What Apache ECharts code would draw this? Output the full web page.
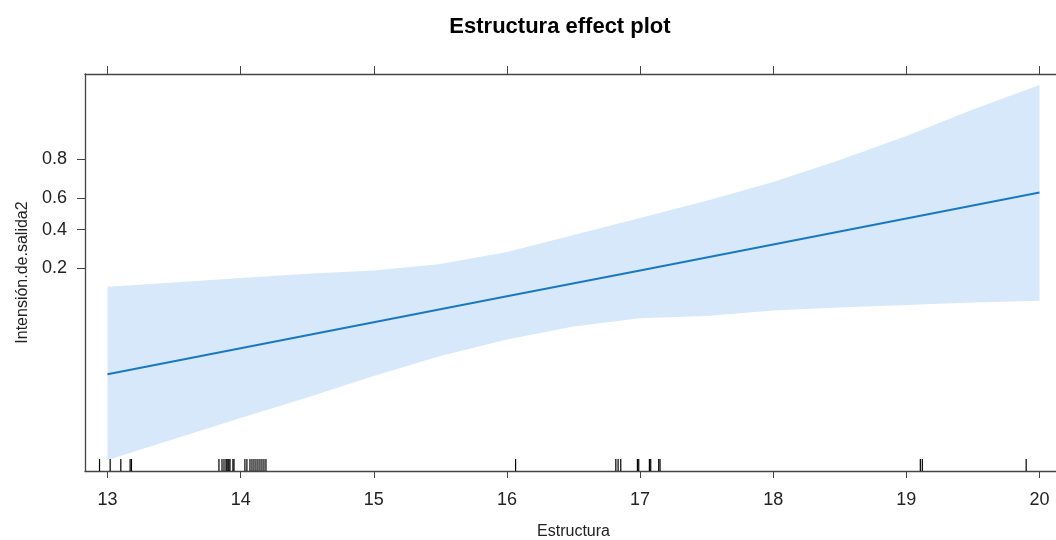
<!DOCTYPE html>
<html>
<head>
<meta charset="utf-8">
<script src="https://cdn.jsdelivr.net/npm/echarts@6/dist/echarts.min.js"></script>
<style>
  html, body { margin: 0; padding: 0; background: #fff; }
  #chart { width: 1056px; height: 540px; }
</style>
</head>
<body>
<div id="chart"></div>
<script>
// effect plot: y is on the logit scale, values below are linear predictor (logit)
var fitX = [13, 14, 15, 16, 17, 18, 19, 20];
var fitLogit = [-4.08, -3.42, -2.76, -2.10, -1.44, -0.78, -0.12, 0.54];

// confidence band, read at half steps
var bandX = [13, 13.5, 14, 14.5, 15, 15.5, 16, 16.5, 17, 17.5, 18, 18.5, 19, 19.5, 20];
var bandUpper = [-1.855, -1.746, -1.636, -1.527, -1.443, -1.277, -0.972, -0.540, -0.107, 0.333, 0.809, 1.368, 1.979, 2.653, 3.276];
var bandLower = [-6.263, -5.729, -5.195, -4.674, -4.127, -3.618, -3.198, -2.867, -2.659, -2.600, -2.460, -2.387, -2.320, -2.257, -2.211];

// rug (observed Estructura values, jittered)
var rugX = [12.94, 13.02, 13.10, 13.17, 13.18,
    13.837, 13.86, 13.875, 13.89, 13.897, 13.905, 13.912, 13.92, 13.942, 13.95,
    14.032, 14.047, 14.07, 14.085, 14.10, 14.115, 14.13, 14.145, 14.16, 14.175, 14.19,
    16.065, 16.818, 16.835, 16.855, 16.98, 16.99, 17.07, 17.08, 17.14, 17.15,
    19.105, 19.12, 19.90];

var xTicks = [13, 14, 15, 16, 17, 18, 19, 20];
var yTickProbs = [0.2, 0.4, 0.6, 0.8];

var X_MIN = 12.831, X_MAX = 20.169;
var Y_MIN = -6.543, Y_MAX = 3.556;

function logit(p) { return Math.log(p / (1 - p)); }
function invLogit(v) { return 1 / (1 + Math.exp(-v)); }

var yTickVals = yTickProbs.map(logit);
var axisColor = '#444';
var font = 'Liberation Sans, Arial, sans-serif';

var chart = echarts.init(document.getElementById('chart'));
chart.setOption({
    animation: false,
    backgroundColor: '#fff',
    title: {
        text: 'Estructura effect plot',
        left: 555,
        textAlign: 'center',
        top: 11,
        textStyle: { fontFamily: font, fontSize: 22, fontWeight: 'bold', color: '#000' }
    },
    grid: { left: 85, top: 74, width: 977, height: 397, outerBoundsMode: 'none', containLabel: false },
    xAxis: [{
        type: 'value',
        position: 'bottom',
        min: X_MIN,
        max: X_MAX,
        name: 'Estructura',
        nameLocation: 'middle',
        nameGap: 53,
        nameTextStyle: { fontFamily: font, fontSize: 16, color: '#222' },
        axisLine: { show: true, onZero: false, lineStyle: { color: axisColor, width: 1.3 } },
        axisTick: { show: true, length: 7, customValues: xTicks, lineStyle: { color: axisColor } },
        axisLabel: { customValues: xTicks, margin: 20, fontFamily: font, fontSize: 18, color: '#222' },
        splitLine: { show: false }
    }, {
        type: 'value',
        position: 'top',
        min: X_MIN,
        max: X_MAX,
        axisLine: { show: true, onZero: false, lineStyle: { color: axisColor, width: 1.3 } },
        axisTick: { show: true, length: 8, customValues: xTicks, lineStyle: { color: axisColor } },
        axisLabel: { show: false },
        splitLine: { show: false }
    }],
    yAxis: {
        type: 'value',
        min: Y_MIN,
        max: Y_MAX,
        name: 'Intensión.de.salida2',
        nameLocation: 'middle',
        nameGap: 52,
        nameTextStyle: { fontFamily: font, fontSize: 16, color: '#222' },
        axisLine: { show: true, onZero: false, lineStyle: { color: axisColor, width: 1.3 } },
        axisTick: { show: true, length: 8, customValues: yTickVals, lineStyle: { color: axisColor } },
        axisLabel: {
            customValues: yTickVals,
            margin: 18,
            fontFamily: font,
            fontSize: 18,
            color: '#222',
            formatter: function (v) { return invLogit(v).toFixed(1); }
        },
        splitLine: { show: false }
    },
    series: [{
        // confidence band polygon
        type: 'custom',
        z: 1,
        data: [0],
        renderItem: function (params, api) {
            var pts = [];
            for (var i = 0; i < bandX.length; i++) pts.push(api.coord([bandX[i], bandUpper[i]]));
            for (var j = bandX.length - 1; j >= 0; j--) pts.push(api.coord([bandX[j], bandLower[j]]));
            return { type: 'polygon', shape: { points: pts }, style: { fill: '#d7e8fa' } };
        }
    }, {
        type: 'line',
        z: 3,
        data: fitX.map(function (x, i) { return [x, fitLogit[i]]; }),
        showSymbol: false,
        lineStyle: { color: '#1a78c2', width: 2 }
    }, {
        // rug
        type: 'custom',
        z: 4,
        data: rugX.map(function (x) { return [x]; }),
        renderItem: function (params, api) {
            var p = api.coord([api.value(0), Y_MIN]);
            return {
                type: 'line',
                shape: { x1: p[0], y1: p[1], x2: p[0], y2: p[1] - 12 },
                style: { stroke: '#000', lineWidth: 1.2 }
            };
        }
    }]
});
</script>
</body>
</html>
